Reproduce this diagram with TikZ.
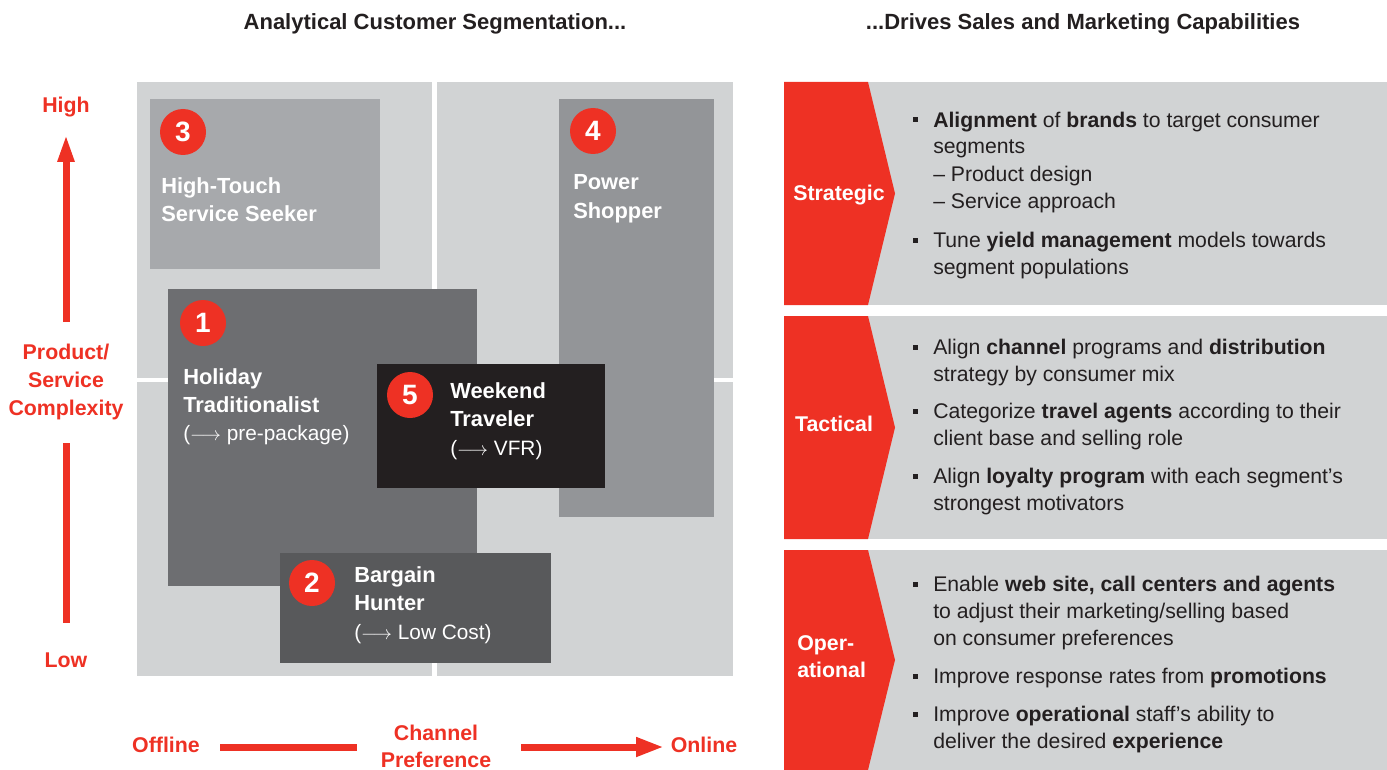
\documentclass[tikz,border=0pt]{standalone}
\usepackage{fontspec}
\setmainfont{Liberation Sans}
\usetikzlibrary{arrows.meta,calc}

\definecolor{brandred}{HTML}{EE3124}
\definecolor{ink}{HTML}{231F20}
\definecolor{fieldgray}{HTML}{D1D3D4}
\definecolor{segA}{HTML}{A7A9AC}
\definecolor{segB}{HTML}{939598}
\definecolor{segC}{HTML}{6D6E71}
\definecolor{segD}{HTML}{231F20}
\definecolor{segE}{HTML}{58595B}

% multi-line nodes are anchored at the baseline of their last line
\tikzset{
  heading/.style={font=\bfseries\fontsize{16.5}{20}\selectfont, text=ink, inner sep=0, anchor=base},
  seglabel/.style={font=\bfseries\fontsize{16.4}{21}\selectfont, text=white, align=left, anchor=base west, inner sep=0},
  segnote/.style={font=\fontsize{15.6}{21}\selectfont, text=white, anchor=base west, inner sep=0},
  numdot/.style={circle, fill=brandred, minimum size=34.5pt, inner sep=0, text=white, font=\bfseries\fontsize{21}{21}\selectfont},
  axislabel/.style={font=\bfseries\fontsize{16}{21}\selectfont, text=brandred, align=center, inner sep=0, anchor=base},
  axisline/.style={draw=brandred, line width=5.25pt},
  bodytext/.style={font=\fontsize{15.9}{20.25}\selectfont, text=ink, align=left, anchor=base west, inner sep=0},
  tiertext/.style={font=\bfseries\fontsize{16}{20.25}\selectfont, text=white, align=left, inner sep=0},
}

\begin{document}
\begin{tikzpicture}[x=0.75pt,y=-0.75pt]
\useasboundingbox (0,0) rectangle (1387,770);

% ---------- column headings ----------
\node[heading] (hleft) at (435,30) {Analytical Customer Segmentation...};
\node[heading] (hright) at (1083,30) {...Drives Sales and Marketing Capabilities};

% ---------- segmentation field ----------
\fill[fieldgray] (137,82) rectangle (733,676);
\fill[white] (432,82) rectangle (437,676);
\fill[white] (137,378) rectangle (733,382);

% segment boxes, back to front
\fill[segA] (150,99) rectangle (380,269);
\fill[segB] (559,99) rectangle (714,517);
\fill[segC] (168,289) rectangle (477,586);
\fill[segD] (377,364) rectangle (605,488);
\fill[segE] (280,553) rectangle (551,663);

% segment 3
\node[numdot] (n3) at (183,132) {3};
\node[seglabel] (s3) at (161,221) {High-Touch\\Service Seeker};
% segment 4
\node[numdot] (n4) at (593,131) {4};
\node[seglabel] (s4) at (573,218) {Power\\Shopper};
% segment 1
\node[numdot] (n1) at (203,323) {1};
\node[seglabel] (s1) at (183,412) {Holiday\\Traditionalist};
\node[segnote] (s1n) at (183,440) {($\longrightarrow$ pre-package)};
% segment 5
\node[numdot] (n5) at (410,395) {5};
\node[seglabel] (s5) at (450,426) {Weekend\\Traveler};
\node[segnote] (s5n) at (450,455) {($\longrightarrow$ VFR)};
% segment 2
\node[numdot] (n2) at (312,583) {2};
\node[seglabel] (s2) at (354,610) {Bargain\\Hunter};
\node[segnote] (s2n) at (354,639) {($\longrightarrow$ Low Cost)};

% ---------- vertical axis ----------
\node[axislabel] (vhigh) at (66,113) {High};
\node[axislabel] (vlow) at (66,667) {Low};
\node[axislabel] (vlab) at (66,415) {Product/\\Service\\Complexity};
\coordinate (vup) at (66,322);
\coordinate (vtip) at (66,134);
\coordinate (vdn) at (66,443);
\coordinate (vbot) at (66,623);
\draw[axisline, -{Triangle[width=11.5pt,length=21pt]}] (vup) -- (vtip);
\draw[axisline] (vdn) -- (vbot);

% ---------- horizontal axis ----------
\node[axislabel] (hoff) at (166,752) {Offline};
\node[axislabel] (hon) at (704,752) {Online};
\node[axislabel, font=\bfseries\fontsize{16}{20.25}\selectfont] (hlab) at (436,767) {Channel\\Preference};
\coordinate (hl0) at (220,747);
\coordinate (hl1) at (357,747);
\coordinate (hr0) at (521,747);
\coordinate (hr1) at (664,747);
\draw[axisline] (hl0) -- (hl1);
\draw[axisline, -{Triangle[width=13.5pt,length=21pt]}] (hr0) -- (hr1);

% ---------- capability tiers ----------
\fill[fieldgray] (784,82) rectangle (1387,305);
\fill[brandred] (784,82) -- (868,82) -- (895,193.5) -- (868,305) -- (784,305) -- cycle;
\fill[fieldgray] (784,316) rectangle (1387,539);
\fill[brandred] (784,316) -- (868,316) -- (895,427.5) -- (868,539) -- (784,539) -- cycle;
\fill[fieldgray] (784,550) rectangle (1387,770);
\fill[brandred] (784,550) -- (868,550) -- (895,660) -- (868,770) -- (784,770) -- cycle;

\node[tiertext, anchor=base] (tstrat) at (839,200) {Strategic};
\node[tiertext, anchor=base] (ttact) at (834,431) {Tactical};
\node[tiertext, anchor=base west] (toper) at (797,677) {Oper-\\ational};

% strategic items
\node[bodytext] (b1) at (933,208) {\textbf{Alignment} of \textbf{brands} to target consumer\\segments\\\textendash{} Product design\\\textendash{} Service approach};
\node[bodytext] (b2) at (933,274) {Tune \textbf{yield management} models towards\\segment populations};
% tactical items
\node[bodytext] (b3) at (933,381) {Align \textbf{channel} programs and \textbf{distribution}\\strategy by consumer mix};
\node[bodytext] (b4) at (933,445) {Categorize \textbf{travel agents} according to their\\client base and selling role};
\node[bodytext] (b5) at (933,510) {Align \textbf{loyalty program} with each segment’s\\strongest motivators};
% operational items
\node[bodytext] (b6) at (933,645) {Enable \textbf{web site, call centers and agents}\\to adjust their marketing/selling based\\on consumer preferences};
\node[bodytext] (b7) at (933,683) {Improve response rates from \textbf{promotions}};
\node[bodytext] (b8) at (933,748) {Improve \textbf{operational} staff’s ability to\\deliver the desired \textbf{experience}};

% square bullets beside the first line of each item
\foreach \y in {127,247,354,418,483,591,683,721}{
  \fill[ink] (912.5,\y-9.5) rectangle ++(5,5);
}
\end{tikzpicture}
\end{document}
